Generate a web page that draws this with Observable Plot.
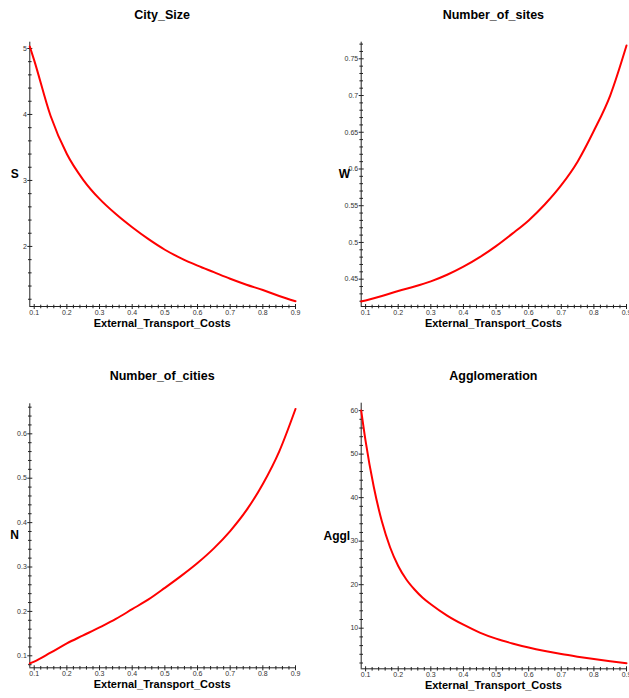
<!DOCTYPE html>
<html><head><meta charset="utf-8">
<script src="https://cdn.jsdelivr.net/npm/d3@7"></script>
<script src="https://cdn.jsdelivr.net/npm/@observablehq/plot@0.6"></script>
<style>
html,body{margin:0;padding:0;background:#fff;overflow:hidden;}
#root{position:relative;width:629px;height:698px;font-family:"Liberation Sans",Arial,sans-serif;overflow:hidden;}
.panel{position:absolute;width:314px;height:349px;}
.lbl{position:absolute;white-space:nowrap;color:#000;font-weight:bold;line-height:1;}
.title{font-size:12.5px;transform:translate(-50%,-50%);}
.xlab{font-size:11px;transform:translate(-50%,-50%);}
.ylab{font-size:12px;transform:translate(-100%,-50%);}
</style></head><body><div id="root"></div>
<script>
// ---- data ----
const costs = [0.0865, 0.1, 0.15, 0.2, 0.25, 0.3, 0.35, 0.4, 0.45, 0.5, 0.55, 0.6, 0.65, 0.7, 0.75, 0.8, 0.85, 0.9];
const citySize = [5.03, 4.82, 3.98, 3.40, 3.01, 2.72, 2.49, 2.29, 2.11, 1.95, 1.82, 1.71, 1.61, 1.51, 1.42, 1.34, 1.25, 1.17];
const numberOfSites = [0.4196, 0.421, 0.427, 0.434, 0.440, 0.447, 0.456, 0.467, 0.480, 0.495, 0.512, 0.530, 0.552, 0.578, 0.610, 0.652, 0.700, 0.768];
const numberOfCities = [0.083, 0.087, 0.107, 0.128, 0.146, 0.164, 0.183, 0.205, 0.227, 0.253, 0.280, 0.309, 0.342, 0.381, 0.428, 0.487, 0.560, 0.656];
const aggCosts = [0.0865, 0.1, 0.125, 0.15, 0.175, 0.2, 0.225, 0.25, 0.275, 0.3, 0.35, 0.4, 0.45, 0.5, 0.55, 0.6, 0.65, 0.7, 0.75, 0.8, 0.85, 0.9];
const agglomeration = [60.0, 53.0, 42.5, 34.5, 28.6, 24.3, 21.2, 18.9, 17.0, 15.5, 12.9, 10.8, 9.0, 7.6, 6.5, 5.55, 4.75, 4.05, 3.45, 2.9, 2.4, 1.95];

// tick labels
const xTicks = [0.1, 0.2, 0.3, 0.4, 0.5, 0.6, 0.7, 0.8, 0.9];
const sTicks = [2, 3, 4, 5];
const wTicks = [0.45, 0.5, 0.55, 0.6, 0.65, 0.7, 0.75];
const nTicks = [0.1, 0.2, 0.3, 0.4, 0.5, 0.6];
const aTicks = [10, 20, 30, 40, 50, 60];

const xTitle = "External_Transport_Costs";
const xDomain = [0.0865, 0.9];

const panels = [
  {title: "City_Size", ylabel: "S", xs: costs, ys: citySize, yDomain: [1.09, 5.095], yTicks: sTicks, yMinor: 0.2,
   box: [0, 0], frame: [29.3, 295, 41.7, 306]},
  {title: "Number_of_sites", ylabel: "W", xs: costs, ys: numberOfSites, yDomain: [0.4128, 0.7726], yTicks: wTicks, yMinor: 0.01,
   box: [315, 0], frame: [360.7, 626, 41.7, 306]},
  {title: "Number_of_cities", ylabel: "N", xs: costs, ys: numberOfCities, yDomain: [0.073, 0.6676], yTicks: nTicks, yMinor: 0.02,
   box: [0, 349], frame: [29.3, 295, 403.3, 667.3]},
  {title: "Agglomeration", ylabel: "Aggl", xs: aggCosts, ys: agglomeration, yDomain: [0.67, 61.7], yTicks: aTicks, yMinor: 2,
   box: [315, 349], frame: [360.7, 626, 402.7, 668.3]}
];

function minorTicks(domain, step, majors) {
  const lo = Math.ceil(domain[0] / step - 1e-9), hi = Math.floor(domain[1] / step + 1e-9);
  return d3.range(lo, hi + 1).map(i => +(i * step).toFixed(6))
    .filter(v => !majors.some(m => Math.abs(m - v) < step / 10));
}
const hTick = len => ({draw(ctx) { ctx.moveTo(-len, 0); ctx.lineTo(len, 0); }});
const vTick = len => ({draw(ctx) { ctx.moveTo(0, -len); ctx.lineTo(0, len); }});

const root = document.getElementById("root");
const W = 314, H = 349;
for (const p of panels) {
  const [bx, by] = p.box;
  const [fx0, fx1, fy0, fy1] = p.frame;
  const x0 = xDomain[0], y0 = p.yDomain[0];
  const xMinor = minorTicks(xDomain, 0.02, xTicks);
  const yMinor = minorTicks(p.yDomain, p.yMinor, p.yTicks);
  const pts = p.xs.map((c, i) => ({x: c, y: p.ys[i]}));
  const axisColor = "#222";
  const chart = Plot.plot({
    width: W, height: H,
    marginLeft: fx0 - bx, marginRight: bx + W - fx1,
    marginTop: fy0 - by, marginBottom: by + H - fy1,
    style: {background: "transparent", fontFamily: "'Liberation Sans', Arial, sans-serif", overflow: "visible"},
    x: {domain: xDomain, axis: null},
    y: {domain: p.yDomain, axis: null},
    marks: [
      Plot.ruleX([x0], {stroke: axisColor, strokeWidth: 1}),
      Plot.ruleY([y0], {stroke: axisColor, strokeWidth: 1}),
      Plot.dot(yMinor, {x: () => x0, y: d => d, symbol: hTick(1.8), stroke: axisColor, strokeWidth: 1}),
      Plot.dot(p.yTicks, {x: () => x0, y: d => d, symbol: hTick(2.5), stroke: axisColor, strokeWidth: 1}),
      Plot.dot(xMinor, {x: d => d, y: () => y0, symbol: vTick(1.8), stroke: axisColor, strokeWidth: 1}),
      Plot.dot(xTicks, {x: d => d, y: () => y0, symbol: vTick(2.5), stroke: axisColor, strokeWidth: 1}),
      Plot.text(p.yTicks, {x: () => x0, y: d => d, text: d => String(d), textAnchor: "end", dx: -3, fontSize: 7, fill: "#333"}),
      Plot.text(xTicks, {x: d => d, y: () => y0, text: d => String(d), textAnchor: "middle", dy: 6.3, fontSize: 7, fill: "#333"}),
      Plot.line(pts, {x: "x", y: "y", stroke: "#ff0000", strokeWidth: 2, curve: "monotone-x"})
    ]
  });
  const div = document.createElement("div");
  div.className = "panel";
  div.style.left = bx + "px";
  div.style.top = by + "px";
  div.appendChild(chart);
  root.appendChild(div);

  const t = document.createElement("div");
  t.className = "lbl title"; t.textContent = p.title;
  t.style.left = ((fx0 + fx1) / 2) + "px"; t.style.top = (fy0 - 27) + "px";
  root.appendChild(t);

  const xl = document.createElement("div");
  xl.className = "lbl xlab"; xl.textContent = xTitle;
  xl.style.left = ((fx0 + fx1) / 2) + "px"; xl.style.top = (fy1 + 17) + "px";
  root.appendChild(xl);

  const yl = document.createElement("div");
  yl.className = "lbl ylab"; yl.textContent = p.ylabel;
  yl.style.left = (fx0 - 10.5) + "px"; yl.style.top = ((fy0 + fy1) / 2) + "px";
  root.appendChild(yl);
}
</script></body></html>
